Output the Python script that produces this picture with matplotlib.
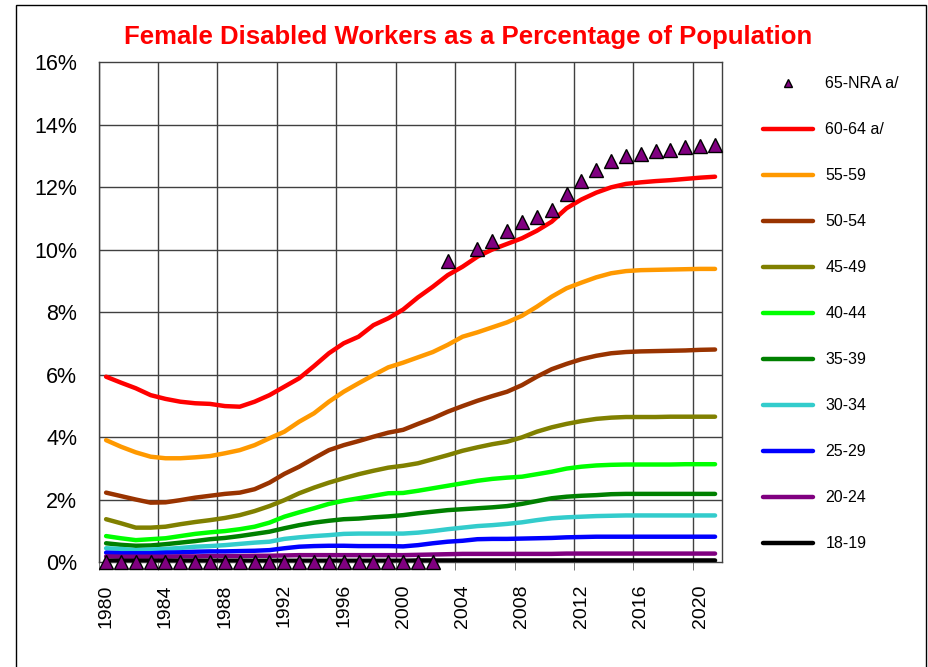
import numpy as np
import matplotlib
matplotlib.use("Agg")
import matplotlib.pyplot as plt
from matplotlib.patches import Rectangle
from matplotlib.lines import Line2D

plt.rcParams['font.family'] = ['Liberation Sans', 'DejaVu Sans']

years = list(range(1980, 2022))
nan = np.nan

# percent of population
age_65_nra = [0] * 23 + [9.64, nan, 10.02, 10.27, 10.59, 10.89, 11.04, 11.25, 11.79, 12.2,
                         12.54, 12.82, 12.99, 13.07, 13.15, 13.2, 13.27, 13.31, 13.34]
age_60_64 = [5.93, 5.74, 5.56, 5.34, 5.22, 5.13, 5.08, 5.06, 4.99, 4.97, 5.13, 5.34, 5.61, 5.88,
             6.27, 6.68, 7.0, 7.21, 7.58, 7.8, 8.08, 8.47, 8.81, 9.18, 9.45, 9.77, 10.0, 10.18,
             10.36, 10.6, 10.89, 11.32, 11.6, 11.82, 11.99, 12.1, 12.15, 12.19, 12.22, 12.26,
             12.3, 12.33]
age_55_59 = [3.9, 3.69, 3.51, 3.37, 3.32, 3.32, 3.35, 3.39, 3.48, 3.58, 3.74, 3.96, 4.17, 4.49,
             4.76, 5.13, 5.45, 5.72, 5.98, 6.23, 6.38, 6.55, 6.72, 6.95, 7.21, 7.35, 7.51, 7.67,
             7.88, 8.17, 8.49, 8.76, 8.94, 9.11, 9.24, 9.31, 9.34, 9.35, 9.36, 9.37, 9.38, 9.38]
age_50_54 = [2.22, 2.11, 2.0, 1.9, 1.91, 1.98, 2.06, 2.12, 2.18, 2.22, 2.33, 2.54, 2.82, 3.05,
             3.32, 3.58, 3.74, 3.87, 4.01, 4.14, 4.23, 4.42, 4.6, 4.81, 4.99, 5.16, 5.31, 5.45,
             5.66, 5.93, 6.17, 6.34, 6.49, 6.6, 6.68, 6.72, 6.74, 6.75, 6.76, 6.77, 6.79, 6.8]
age_45_49 = [1.37, 1.24, 1.1, 1.1, 1.13, 1.21, 1.28, 1.34, 1.41, 1.5, 1.63, 1.79, 1.98, 2.2,
             2.38, 2.54, 2.68, 2.81, 2.92, 3.02, 3.08, 3.16, 3.29, 3.42, 3.56, 3.67, 3.77, 3.85,
             3.99, 4.17, 4.31, 4.42, 4.51, 4.58, 4.62, 4.64, 4.64, 4.64, 4.65, 4.65, 4.65, 4.65]
age_40_44 = [0.83, 0.76, 0.7, 0.73, 0.76, 0.83, 0.9, 0.95, 0.99, 1.05, 1.13, 1.26, 1.45, 1.59,
             1.72, 1.86, 1.96, 2.04, 2.12, 2.2, 2.21, 2.28, 2.36, 2.44, 2.52, 2.6, 2.66, 2.7,
             2.73, 2.81, 2.89, 2.99, 3.05, 3.09, 3.11, 3.12, 3.12, 3.12, 3.12, 3.13, 3.13, 3.13]
age_35_39 = [0.6, 0.55, 0.52, 0.53, 0.57, 0.62, 0.67, 0.73, 0.77, 0.83, 0.9, 0.97, 1.08, 1.18,
             1.26, 1.32, 1.37, 1.39, 1.43, 1.46, 1.5, 1.56, 1.61, 1.66, 1.69, 1.72, 1.75, 1.79,
             1.86, 1.95, 2.04, 2.09, 2.12, 2.14, 2.17, 2.18, 2.18, 2.18, 2.18, 2.18, 2.18, 2.18]
age_30_34 = [0.44, 0.42, 0.38, 0.4, 0.42, 0.45, 0.49, 0.51, 0.54, 0.58, 0.62, 0.65, 0.74, 0.79,
             0.83, 0.86, 0.9, 0.91, 0.91, 0.91, 0.91, 0.94, 0.99, 1.05, 1.1, 1.15, 1.18, 1.22,
             1.27, 1.34, 1.4, 1.43, 1.45, 1.47, 1.48, 1.49, 1.49, 1.49, 1.49, 1.49, 1.49, 1.49]
age_25_29 = [0.3, 0.28, 0.28, 0.28, 0.3, 0.31, 0.33, 0.34, 0.34, 0.35, 0.36, 0.38, 0.44, 0.49,
             0.51, 0.52, 0.52, 0.51, 0.51, 0.51, 0.5, 0.54, 0.6, 0.65, 0.68, 0.73, 0.74, 0.74,
             0.75, 0.76, 0.77, 0.79, 0.8, 0.81, 0.81, 0.81, 0.81, 0.81, 0.81, 0.81, 0.81, 0.81]
age_20_24 = [0.18, 0.17, 0.17, 0.17, 0.17, 0.18, 0.18, 0.19, 0.19, 0.19, 0.2, 0.2, 0.21, 0.22,
             0.22, 0.22, 0.22, 0.22, 0.22, 0.22, 0.22, 0.23, 0.24, 0.25, 0.26, 0.26, 0.26, 0.26,
             0.26, 0.26, 0.26, 0.27, 0.27, 0.27, 0.27, 0.27, 0.27, 0.27, 0.27, 0.27, 0.27, 0.27]
age_18_19 = [0.04] * 21 + [0.05] * 21

line_series = [
    ("60-64 a/", age_60_64, "#FF0000"),
    ("55-59", age_55_59, "#FF9900"),
    ("50-54", age_50_54, "#993300"),
    ("45-49", age_45_49, "#808000"),
    ("40-44", age_40_44, "#00FF00"),
    ("35-39", age_35_39, "#008000"),
    ("30-34", age_30_34, "#33CCCC"),
    ("25-29", age_25_29, "#0000FF"),
    ("20-24", age_20_24, "#800080"),
    ("18-19", age_18_19, "#000000"),
]

fig = plt.figure(figsize=(9.29, 6.67), dpi=100)
ax = fig.add_axes([0.1062, 0.1574, 0.6715, 0.7496])

handles = []
for label, vals, color in line_series:
    ln, = ax.plot(years, vals, color=color, lw=3.2, solid_capstyle='round', label=label, zorder=3)
    handles.append(ln)

ax.plot(years, age_65_nra, ls='none', marker='^', ms=10, mfc='#800080', mec='black',
        mew=1, zorder=5, clip_on=False)
nra_handle = Line2D([], [], ls='none', marker='^', ms=6, mfc='#800080', mec='black', mew=1)

ax.set_xlim(1979.5, 2021.5)
ax.set_ylim(0, 16)
ax.set_yticks(range(0, 17, 2))
ax.set_yticklabels([f"{v}%" for v in range(0, 17, 2)], fontsize=15.5)
ax.set_xticks(range(1980, 2021, 4))
ax.set_xticklabels([str(y) for y in range(1980, 2021, 4)], rotation=90, fontsize=14)
ax.set_xticks(np.arange(1979.5, 2021, 4), minor=True)
ax.tick_params(axis='x', which='major', length=0, pad=16)
ax.tick_params(axis='x', which='minor', length=6, color='#606060')
ax.tick_params(axis='y', length=0, pad=15.5)
ax.grid(False)
for gx in np.arange(1979.5, 2021, 4):
    ax.axvline(gx, color='#404040', lw=1, zorder=1)
for gy in range(2, 16, 2):
    ax.axhline(gy, color='#404040', lw=1, zorder=1)
for s in ax.spines.values():
    s.set_color('#404040')
    s.set_linewidth(1)

fig.text(0.504, 0.944, "Female Disabled Workers as a Percentage of Population",
         color='#FF0000', fontsize=18.5, fontweight='bold', ha='center', va='center')

fig.legend([nra_handle] + handles, ["65-NRA a/"] + [s[0] for s in line_series],
           loc='upper left', bbox_to_anchor=(0.8145, 0.895), frameon=False, fontsize=11.5,
           handlelength=3.1, handletextpad=0.8, labelspacing=1.94, borderaxespad=0)

fig.patches.append(Rectangle((16 / 929, -0.02), 910 / 929, 1 - 5 / 667 + 0.02,
                             transform=fig.transFigure, fill=False, ec='black', lw=1))

fig.savefig("out.png", dpi=100)
